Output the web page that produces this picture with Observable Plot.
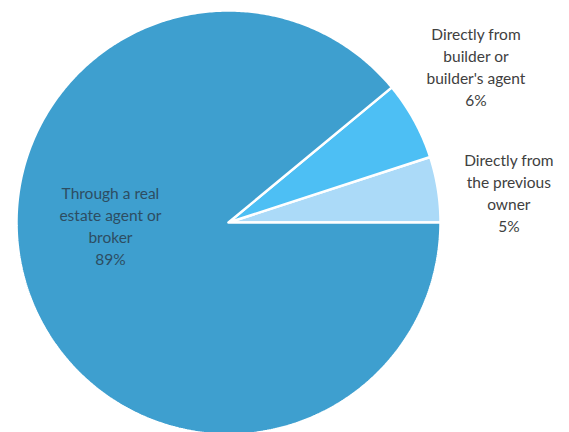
<!DOCTYPE html>
<html>
<head>
<meta charset="utf-8">
<script src="https://cdn.jsdelivr.net/npm/d3@7"></script>
<script src="https://cdn.jsdelivr.net/npm/@observablehq/plot@0.6"></script>
<style>
  html, body { margin: 0; padding: 0; background: #fff; overflow: hidden; }
  #chart svg { display: block; overflow: hidden; }
</style>
</head>
<body>
<div id="chart"></div>
<script>
// Data (slice order: counterclockwise from 3 o'clock)
const categories = ["Directly from\nthe previous\nowner", "Directly from\nbuilder or\nbuilder's agent", "Through a real\nestate agent or\nbroker"];
const values = [5, 6, 89];
const colors = ["#abdaf8", "#4dbff4", "#3e9fcf"];

const W = 569, H = 432;
const cx = 228, cy = 222, R = 212;

const pie = d3.pie().sort(null).value(d => d.value)
  .startAngle(Math.PI / 2).endAngle(Math.PI / 2 - 2 * Math.PI);
const slices = pie(categories.map((c, i) => ({name: c, value: values[i], color: colors[i]})));

// polygon points for each wedge (unit circle, y up)
const pts = [];
slices.forEach((s, i) => {
  const a0 = s.startAngle, a1 = s.endAngle;
  const n = Math.max(2, Math.ceil(Math.abs(a1 - a0) / 0.01));
  pts.push({k: i, x: 0, y: 0, c: colors[i]});
  for (let j = 0; j <= n; j++) {
    const a = a0 + (a1 - a0) * j / n;
    pts.push({k: i, x: Math.sin(a), y: Math.cos(a), c: colors[i]});
  }
  pts.push({k: i, x: 0, y: 0, c: colors[i]});
});

// labels: outside for small slices, inside (best fit) for the big one
const labelPlacement = [{r: 1.33, da: 0.05}, {r: 1.38, da: -0.06}, {r: 0.557, da: 0.324}];
const labels = slices.map((s, i) => {
  const mid = (s.startAngle + s.endAngle) / 2 + labelPlacement[i].da;
  const r = labelPlacement[i].r;
  return {x: r * Math.sin(mid), y: r * Math.cos(mid), text: `${s.data.name}\n${s.data.value}%`, inside: i === 2};
});

const chart = Plot.plot({
  width: W, height: H,
  margin: 0,
  x: {domain: [-cx / R, (W - cx) / R], range: [0, W], axis: null},
  y: {domain: [-(H - cy) / R, cy / R], range: [H, 0], axis: null},
  marks: [
    Plot.line(pts, {x: "x", y: "y", z: "k", fill: "c", stroke: "white", strokeWidth: 2.5, strokeLinejoin: "miter", curve: "linear"}),
    Plot.text(labels, {x: "x", y: "y", text: "text", fill: d => d.inside ? "#2d4d62" : "#404040",
      fontSize: 15.5, lineHeight: 1.42, textAnchor: "middle", lineAnchor: "middle",
      fontFamily: "Lato, 'Open Sans', sans-serif"})
  ]
});
document.getElementById("chart").appendChild(chart);
</script>
</body>
</html>
